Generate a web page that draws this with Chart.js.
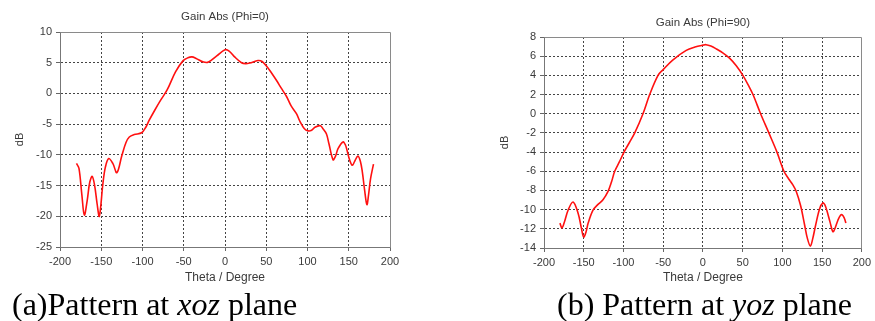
<!DOCTYPE html>
<html><head><meta charset="utf-8">
<script src="https://cdn.jsdelivr.net/npm/chart.js@4.4.1/dist/chart.umd.min.js"></script>
<style>
body{margin:0;background:#fff;width:875px;height:321px;overflow:hidden;position:relative}
.c{position:absolute;top:0}
.cap{position:absolute;font-family:"Liberation Serif","Times New Roman",serif;font-size:32px;line-height:32px;color:#000;white-space:nowrap}
</style></head><body>
<div class="c" style="left:0;width:440px;height:290px"><canvas id="a" width="440" height="290"></canvas></div>
<div class="c" style="left:440px;width:435px;height:290px"><canvas id="b" width="435" height="290"></canvas></div>
<div class="cap" style="left:12px;top:288px">(a)Pattern at <i>xoz</i> plane</div>
<div class="cap" style="left:557px;top:288px">(b) Pattern at <i>yoz</i> plane</div>
<script>
// Phi = 0 cut
const theta0 = [-180,-177,-173.5,-170.5,-167,-164,-161,-158,-155,-152.3,-148,-145,-141,-136,-131,-125,-120,-116,-110,-101,-96,-92,-85,-78,-70,-60,-51,-45,-40,-35,-26,-20,-10,0,5,12,20,25,30,40,45,50,56,62.5,68,74.6,80,86.6,91,96,100.7,105,109,115.6,119,123,126,131,134,137,143,146,148,151,154.3,157,161,164,166.5,169,172,174,176.4,180];
const gain0  = [-11.4,-12.2,-16.5,-19.8,-17.4,-14.5,-13.5,-15,-18,-20,-14.7,-12,-10.6,-11.4,-12.9,-10.1,-8,-7.1,-6.7,-6.4,-5.5,-4.4,-2.7,-1.1,0.6,3.5,5.3,5.8,5.95,5.7,5.1,5.1,6.1,7.1,6.9,5.9,5.0,4.85,4.95,5.35,5.2,4.5,3.4,2.1,0.9,-0.5,-2,-3.3,-4.6,-5.7,-6.1,-6.0,-5.5,-5.25,-5.8,-6.6,-8.2,-10.8,-10.2,-9.0,-7.9,-8.4,-9.3,-10.8,-11.7,-11.1,-10.2,-11.0,-12.8,-15.5,-18.1,-16.5,-13.9,-11.5];
// Phi = 90 cut
const theta90 = [-180,-177.3,-174,-169.7,-163.4,-157,-153,-150,-147,-144.6,-138.3,-132,-126,-119.4,-115,-111,-105,-99.3,-92.5,-85.8,-75.4,-67,-56.5,-50,-38,-21,-10,0,4,10,17,25,33.5,42,50.3,57,63,72.6,83,93.2,102,108,113,117.5,123,128,131.5,135.2,138,141.9,146.9,151,153.5,156,160,163.6,166,169.9,173,175.4,178,180];
const gain90  = [-11.4,-11.9,-11.2,-10.06,-9.2,-10.4,-11.9,-12.85,-12.3,-11.45,-10.06,-9.45,-9.0,-8.1,-7.1,-6.0,-5.0,-4.0,-3.0,-2.0,0.0,2.0,4.0,4.6,5.6,6.6,6.95,7.15,7.2,7.05,6.75,6.35,5.8,5.0,4.0,3.0,2.0,0.0,-2.0,-4.0,-6.0,-6.8,-7.4,-8.1,-9.6,-11.6,-13.0,-13.8,-13.1,-11.6,-9.9,-9.3,-9.5,-10.1,-11.3,-12.3,-12.0,-11.1,-10.6,-10.55,-10.9,-11.4];

const xTicks = {min:-200, max:200, step:50};
const yTicks0 = {min:-25, max:10, step:5};
const yTicks90 = {min:-14, max:8, step:2};

const FONT = '"Liberation Sans", Arial, sans-serif';
const TXT = '#3a3a3a';

const frame = {
  id:'frame',
  beforeDatasetsDraw(chart){
    const {ctx, chartArea:a} = chart;
    const al = v => Math.round(v - 0.5) + 0.5;
    ctx.save();
    ctx.strokeStyle = '#8a8a8a';
    ctx.lineWidth = 1;
    ctx.beginPath();
    ctx.moveTo(al(a.left), al(a.top));
    ctx.lineTo(al(a.right), al(a.top));
    ctx.lineTo(al(a.right), al(a.bottom));
    ctx.stroke();
    ctx.restore();
  }
};

function make(id, title, th, g, yt, geo){
  const pts = th.map((t,i)=>({x:t, y:g[i]}));
  const edgeHide = (lim) => (c) => (c.tick && (c.tick.value === lim.min || c.tick.value === lim.max)) ? 'rgba(0,0,0,0)' : '#444';
  new Chart(document.getElementById(id), {
    type:'line',
    data:{datasets:[{data:pts, borderColor:'#ff1010', borderWidth:1.6, pointRadius:0, fill:false, tension:0.35}]},
    options:{
      responsive:false, animation:false, devicePixelRatio:1,
      layout:{padding:{left:0, right:geo.W-geo.right, top:0, bottom:0}},
      plugins:{
        legend:{display:false}, tooltip:{enabled:false},
        title:{display:true, text:title, fullSize:false, color:TXT, font:{family:FONT, size:11.5, weight:'normal'}, padding:{top:geo.tpt, bottom:geo.tpb}}
      },
      scales:{
        x:{type:'linear', min:xTicks.min, max:xTicks.max,
           ticks:{stepSize:xTicks.step, color:TXT, font:{family:FONT, size:11}, padding:4, maxRotation:0, autoSkip:false},
           grid:{color:edgeHide(xTicks), tickColor:'#666', tickLength:4, tickBorderDash:[], lineWidth:1},
           border:{color:'#777', dash:[2,2]},
           title:{display:true, text:'Theta / Degree', color:TXT, font:{family:FONT, size:12}, padding:{top:0, bottom:4.8}},
           afterFit(s){ s.height = geo.H - geo.bottom; }
        },
        y:{min:yt.min, max:yt.max,
           ticks:{stepSize:yt.step, color:TXT, font:{family:FONT, size:11}, padding:4, autoSkip:false},
           grid:{color:edgeHide(yt), tickColor:'#666', tickLength:4, tickBorderDash:[], lineWidth:1},
           border:{color:'#777', dash:[2,2]},
           title:{display:true, text:'dB', color:TXT, font:{family:FONT, size:11}, padding:{top:geo.ypt, bottom:0}},
           afterFit(s){ s.width = geo.left; }
        }
      }
    },
    plugins:[frame]
  });
}

make('a', 'Gain Abs (Phi=0)', theta0, gain0, yTicks0, {W:440, H:290, left:60, right:390, top:32, bottom:247, tpt:10.1, tpb:8.1, ypt:13.4});
make('b', 'Gain Abs (Phi=90)', theta90, gain90, yTicks90, {W:435, H:290, left:104, right:423, top:37, bottom:248, tpt:16.1, tpb:7.1, ypt:58.4});
</script>
</body></html>
